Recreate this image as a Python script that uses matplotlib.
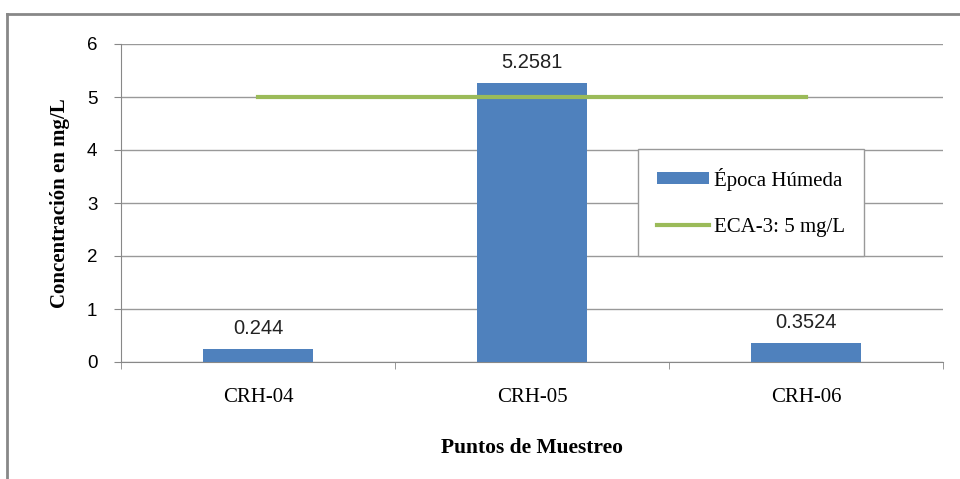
import matplotlib.pyplot as plt
from matplotlib.lines import Line2D

puntos = ["CRH-04", "CRH-05", "CRH-06"]
humeda = [0.244, 5.2581, 0.3524]
humeda_txt = ["0.244", "5.2581", "0.3524"]
eca = [5, 5, 5]

blue = "#4F81BD"
green = "#9BBB59"

fig = plt.figure(figsize=(9.6, 4.79), dpi=100)
ax = fig.add_axes([121/960, 1-362/479, (943-121)/960, (362-44)/479])

x = list(range(len(puntos)))
bars = ax.bar(x, humeda, width=0.4, color=blue, zorder=3, label="Época Húmeda")
line, = ax.plot(x, eca, color=green, lw=3, zorder=4, label="ECA-3: 5 mg/L")

for xi, v, t in zip(x, humeda, humeda_txt):
    ax.annotate(t, (xi, v), xytext=(0, 8), textcoords="offset points",
                ha="center", va="bottom", fontsize=14.5, family="Liberation Sans", color="#222222")

ax.set_xlim(-0.5, 2.5)
ax.set_ylim(0, 6)
ax.set_yticks(range(7))
ax.set_xticks(x)
ax.set_xticklabels(puntos, family="Liberation Serif", fontsize=15)
ax.set_xticks([-0.5, 0.5, 1.5, 2.5], minor=True)
ax.tick_params(axis="x", which="major", length=0, pad=19)
ax.tick_params(axis="x", which="minor", length=5, color="#888888")
ax.tick_params(axis="y", length=5, color="#888888", pad=12, labelsize=13.5)
for lab in ax.get_yticklabels():
    lab.set_family("Liberation Sans")
ax.grid(axis="y", color="#999999", lw=1, zorder=0)
for s in ["top", "right"]:
    ax.spines[s].set_visible(False)
ax.spines["left"].set_color("#888888")
ax.spines["bottom"].set_color("#888888")

ax.set_xlabel("Puntos de Muestreo", family="Liberation Serif", fontweight="bold",
              fontsize=15.5, labelpad=22)
ax.set_ylabel("Concentración en mg/L", family="Liberation Serif", fontweight="bold",
              fontsize=15, labelpad=12)

leg = ax.legend([bars, line], ["Época Húmeda", "ECA-3: 5 mg/L"],
                loc="upper left", bbox_to_anchor=((638-121)/822, (362-149)/318),
                prop={"family": "Liberation Serif", "size": 15}, frameon=True,
                fancybox=False, edgecolor="#999999", borderpad=0.9, labelspacing=1.3,
                handlelength=2.5, handleheight=0.5, handletextpad=0.25, framealpha=1,
                borderaxespad=0)
leg.get_frame().set_linewidth(1)

# outer chart border
fig.add_artist(Line2D([7/960, 7/960], [0, 1-14/479], color="#888888", lw=2))
fig.add_artist(Line2D([7/960, 1], [1-14/479, 1-14/479], color="#888888", lw=2))

fig.savefig("out.png", dpi=100)
